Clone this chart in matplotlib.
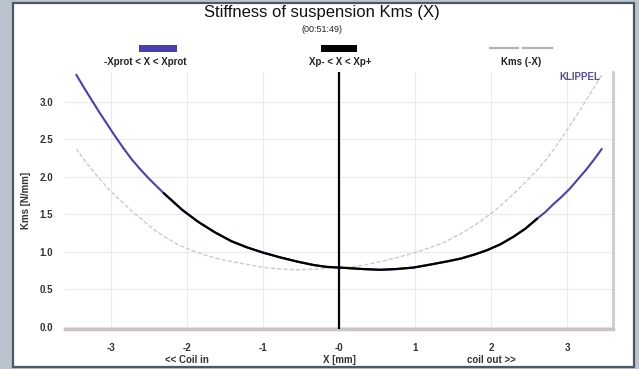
import matplotlib
matplotlib.use('Agg')
import matplotlib.pyplot as plt
from matplotlib.patches import Rectangle
import numpy as np

plt.rcParams['font.family'] = ['Liberation Sans', 'DejaVu Sans']

# displacement X [mm] and stiffness Kms [N/mm]
x_mm = [-3.45, -3.35, -3.16, -3.05, -2.94, -2.83, -2.72, -2.61, -2.50, -2.3,
        -2.06, -1.85, -1.63, -1.41, -1.21, -1.0, -0.77, -0.55, -0.34, -0.17,
        0.0, 0.16, 0.32, 0.54, 0.75, 0.98, 1.2, 1.41, 1.6, 1.8, 1.94, 2.12,
        2.29, 2.45, 2.6, 2.71, 2.81, 2.92, 3.03, 3.14, 3.25, 3.35, 3.45]
kms = [3.36, 3.19, 2.88, 2.71, 2.54, 2.38, 2.23, 2.10, 1.98, 1.78,
       1.56, 1.40, 1.26, 1.14, 1.06, 0.99, 0.925, 0.87, 0.825, 0.80,
       0.79, 0.78, 0.77, 0.76, 0.77, 0.79, 0.83, 0.87, 0.91, 0.97, 1.02, 1.10,
       1.20, 1.31, 1.44, 1.53, 1.63, 1.73, 1.84, 1.97, 2.10, 2.23, 2.37]

xp_minus, xp_plus = -2.3, 2.6        # black range Xp- < X < Xp+
rest_pos = [0.0]                     # vertical marker at rest position

x_ticks = [-3, -2, -1, 0, 1, 2, 3]
x_labels = ['-3', '-2\n<< Coil in', '-1', '-0\nX [mm]', '1', '2\ncoil out >>', '3']
y_ticks = [0.0, 0.5, 1.0, 1.5, 2.0, 2.5, 3.0]

x_arr = np.array(x_mm)
k_arr = np.array(kms)
inner = (x_arr >= xp_minus) & (x_arr <= xp_plus)

fig = plt.figure(figsize=(6.39, 3.69), dpi=100)
fig.patch.set_facecolor('#b9c4cf')
panel = Rectangle((13/639, 2/369), 621/639, 364/369, transform=fig.transFigure,
                  facecolor='white', edgecolor='#4d5863', lw=1.6, zorder=-10)
fig.patches.append(panel)

ax = fig.add_axes([65/639, 1-329/369, 548/639, 257/369])
ax.set_zorder(2)
ax.set_facecolor('none')

# Kms(-X), mirror of the curve
ax.plot(-x_arr, k_arr, color='#d3c8c8', lw=1.0, ls=(0, (3, 1.5)), zorder=2)
ax.plot(x_arr, k_arr, color='#4a3fb2', lw=1.5, zorder=3)
ax.plot(x_arr[inner], k_arr[inner], color='black', lw=1.6, zorder=4)
for xv in rest_pos:
    ax.axvline(xv, color='black', lw=1.6, zorder=5)

ax.set_xlim(-3.6, 3.6)
ax.set_ylim(-0.03, 3.4)
ax.set_xticks(x_ticks)
ax.set_xticklabels(x_labels, fontsize=7, fontweight='bold', color='#333333', linespacing=1.3)
ax.set_yticks(y_ticks)
ax.set_yticklabels(['%.1f' % v for v in y_ticks], fontsize=7, fontweight='bold', color='#333333')
ax.tick_params(length=0, pad=10, axis='x')
ax.tick_params(length=0, pad=8.5, axis='y')
ax.grid(True, color='#eee9e6', lw=0.8)
ax.set_axisbelow(True)

for s in ['top', 'left']:
    ax.spines[s].set_visible(False)
ax.spines['bottom'].set_color('#cbc3bf')
ax.spines['bottom'].set_linewidth(2.5)
ax.spines['right'].set_color('#cfcac6')
ax.spines['right'].set_linewidth(2.0)

ax.set_ylabel('Kms [N/mm]', fontsize=7, fontweight='bold', color='#333333', labelpad=6)

fig.text(322/639, 1-13/369, 'Stiffness of suspension Kms (X)', fontsize=12,
         ha='center', va='center', color='#111111')
fig.text(322/639, 1-30/369, '(00:51:49)', fontsize=6.5, ha='center', va='center', color='#222222')

# legend row
fig.patches.append(Rectangle((139/639, 1-52/369), 38/639, 7/369, transform=fig.transFigure,
                             facecolor='#4a3fb2', edgecolor='none'))
fig.patches.append(Rectangle((321/639, 1-52/369), 36/639, 7/369, transform=fig.transFigure,
                             facecolor='black', edgecolor='none'))
for x0, x1 in [(490, 518), (523, 552)]:
    fig.lines.append(plt.Line2D([x0/639, x1/639], [1-48/369, 1-48/369], transform=fig.transFigure,
                                color='#b8b0ae', lw=1.6))
fig.text(145/639, 1-62/369, '-Xprot < X < Xprot', fontsize=7, fontweight='bold',
         ha='center', va='center', color='#222222')
fig.text(340/639, 1-62/369, 'Xp- < X < Xp+', fontsize=7, fontweight='bold',
         ha='center', va='center', color='#222222')
fig.text(521/639, 1-62/369, 'Kms (-X)', fontsize=7, fontweight='bold',
         ha='center', va='center', color='#222222')
fig.text(600/639, 1-77/369, 'KLIPPEL', fontsize=7, fontweight='bold',
         ha='right', va='center', color='#5a4fa6')

fig.savefig('out.png', dpi=100, facecolor=fig.get_facecolor())
